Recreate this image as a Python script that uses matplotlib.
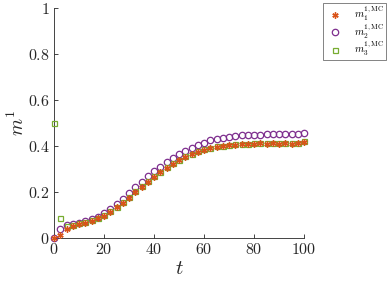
import numpy as np
import matplotlib
matplotlib.use("Agg")
import matplotlib.pyplot as plt

plt.rcParams['font.family'] = 'serif'
plt.rcParams['font.serif'] = ['cmr10', 'DejaVu Serif']
plt.rcParams['mathtext.fontset'] = 'cm'
plt.rcParams['axes.formatter.use_mathtext'] = True

t = np.arange(0, 100.01, 2.5)

m1 = [0.0, 0.015, 0.040, 0.052, 0.060, 0.067, 0.075, 0.085, 0.097, 0.113,
      0.133, 0.154, 0.176, 0.200, 0.222, 0.244, 0.265, 0.285, 0.303, 0.321,
      0.337, 0.352, 0.365, 0.376, 0.384, 0.392, 0.397, 0.400, 0.404, 0.406,
      0.410, 0.407, 0.410, 0.413, 0.409, 0.412, 0.408, 0.413, 0.410, 0.411,
      0.418]

m2 = [0.0, 0.039, 0.055, 0.061, 0.067, 0.074, 0.084, 0.093, 0.107, 0.125,
      0.148, 0.170, 0.195, 0.220, 0.245, 0.270, 0.290, 0.310, 0.330, 0.347,
      0.364, 0.378, 0.392, 0.404, 0.415, 0.424, 0.430, 0.436, 0.440, 0.443,
      0.446, 0.448, 0.449, 0.450, 0.451, 0.451, 0.452, 0.452, 0.453, 0.454,
      0.455]

m3 = [0.5, 0.087, 0.052, 0.058, 0.064, 0.071, 0.079, 0.088, 0.100, 0.116,
      0.136, 0.157, 0.180, 0.203, 0.225, 0.247, 0.268, 0.288, 0.307, 0.324,
      0.340, 0.355, 0.367, 0.378, 0.386, 0.393, 0.398, 0.402, 0.405, 0.407,
      0.409, 0.410, 0.411, 0.412, 0.413, 0.412, 0.414, 0.413, 0.414, 0.415,
      0.420]

labels = [r'$m_1^{1,\mathrm{MC}}$', r'$m_2^{1,\mathrm{MC}}$', r'$m_3^{1,\mathrm{MC}}$']
c1, c2, c3 = '#D95319', '#7E2F8E', '#77AC30'

fig = plt.figure(figsize=(3.9, 2.85), dpi=100)
ax = fig.add_axes([54/390, 1-238/285, 250/390, 230/285])

h1, = ax.plot(t, m1, linestyle='none', marker=(6, 2, 0), markersize=4.5,
              markeredgewidth=1.0, color=c1, zorder=5, label=labels[0])
h2, = ax.plot(t, m2, linestyle='none', marker='o', markersize=4.6,
              markerfacecolor='none', markeredgewidth=0.9, color=c2, zorder=3, label=labels[1])
h3, = ax.plot(t, m3, linestyle='none', marker='s', markersize=3.6,
              markerfacecolor='none', markeredgewidth=0.9, color=c3, zorder=4, label=labels[2])

ax.set_xlim(0, 100)
ax.set_ylim(0, 1)
ax.set_xticks([0, 20, 40, 60, 80, 100])
ax.set_yticks([0, 0.2, 0.4, 0.6, 0.8, 1])
ax.set_xticklabels([r'$0$', r'$20$', r'$40$', r'$60$', r'$80$', r'$100$'])
ax.set_yticklabels([r'$0$', r'$0.2$', r'$0.4$', r'$0.6$', r'$0.8$', r'$1$'])
for s in ['top', 'right']:
    ax.spines[s].set_visible(False)
for s in ['left', 'bottom']:
    ax.spines[s].set_color('#262626')
    ax.spines[s].set_linewidth(0.6)
ax.tick_params(direction='in', length=3, width=0.6, colors='#262626',
               labelsize=11.5, labelcolor='#262626', pad=3)
ax.set_xlabel(r'$t$', fontsize=15, color='#262626', labelpad=2)
ax.set_ylabel(r'$m^1$', fontsize=14, color='#262626', labelpad=0)
for h in (h1, h2, h3):
    h.set_clip_on(False)

leg = fig.legend(handles=[h1, h2, h3], loc='upper left',
                 bbox_to_anchor=(323/390, 1-3/285), fontsize=7.5,
                 frameon=True, fancybox=False, edgecolor='#262626',
                 borderpad=0.15, labelspacing=-0.1, handlelength=2.0,
                 handletextpad=0.8, borderaxespad=0)
leg.get_frame().set_linewidth(0.5)

fig.savefig('out.png', dpi=100)
